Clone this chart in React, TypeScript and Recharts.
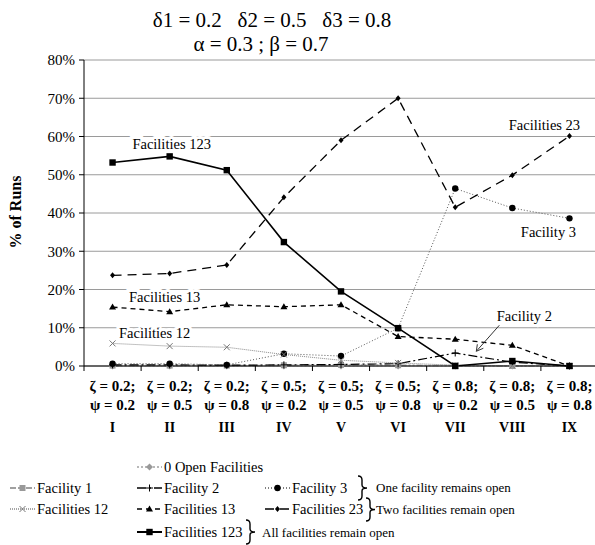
import { LineChart, Line, XAxis, YAxis, CartesianGrid, ReferenceDot } from 'recharts';

const CATEGORIES = ['I', 'II', 'III', 'IV', 'V', 'VI', 'VII', 'VIII', 'IX'];
const ZETA = ['0.2', '0.2', '0.2', '0.5', '0.5', '0.5', '0.8', '0.8', '0.8'];
const PSI = ['0.2', '0.5', '0.8', '0.2', '0.5', '0.8', '0.2', '0.5', '0.8'];
const Y_TICKS = [0, 10, 20, 30, 40, 50, 60, 70, 80];

// % of runs per scenario
const OPEN_0 = [0, 0, 0, 0, 0, 0, 0, 0, 0];
const FACILITY_1 = [0.1, 0.1, 0.1, 0.2, 0.3, 0.2, 0.1, 0, 0];
const FACILITY_2 = [0.3, 0.3, 0.2, 0.3, 0.4, 0.6, 3.4, 1.0, 0];
const FACILITY_3 = [0.6, 0.6, 0.3, 3.2, 2.6, 9.9, 46.4, 41.3, 38.6];
const FACILITIES_12 = [5.9, 5.2, 4.9, 3.0, 1.5, 0.8, 0.2, 0.1, 0];
const FACILITIES_13 = [15.4, 14.2, 16.0, 15.5, 16.0, 7.7, 7.0, 5.4, 0];
const FACILITIES_23 = [23.7, 24.2, 26.4, 44.1, 59.0, 70.0, 41.5, 49.9, 60.1];
const FACILITIES_123 = [53.2, 54.8, 51.2, 32.4, 19.5, 9.9, 0, 1.3, 0];

const SERIES = [
  { key: 'open0', name: '0 Open Facilities', values: OPEN_0, stroke: '#b8b8b8', dash: '2 2', width: 1.5, shape: 'greyDiamond' },
  { key: 'f1', name: 'Facility 1', values: FACILITY_1, stroke: '#a0a0a0', dash: '6 2 2 2 2 2', width: 1.5, shape: 'greySquare' },
  { key: 'f2', name: 'Facility 2', values: FACILITY_2, stroke: '#000', dash: '9 3 2 3', width: 1.2, shape: 'plus' },
  { key: 'f3', name: 'Facility 3', values: FACILITY_3, stroke: '#555', dash: '1 2', width: 1, shape: 'circle' },
  { key: 'f12', name: 'Facilities 12', values: FACILITIES_12, stroke: '#888', dash: '1 1', width: 1, shape: 'cross' },
  { key: 'f13', name: 'Facilities 13', values: FACILITIES_13, stroke: '#000', dash: '5 4', width: 1.3, shape: 'triangle' },
  { key: 'f23', name: 'Facilities 23', values: FACILITIES_23, stroke: '#000', dash: '9 6', width: 1.3, shape: 'diamond' },
  { key: 'f123', name: 'Facilities 123', values: FACILITIES_123, stroke: '#000', dash: undefined, width: 1.6, shape: 'square' },
];

const data = CATEGORIES.map((cat, i) => {
  const row: Record<string, number | string> = { cat, zeta: ZETA[i], psi: PSI[i] };
  SERIES.forEach((s) => {
    row[s.key] = s.values[i];
  });
  return row;
});

// chart annotations, anchored on category / value
const ANNOTATIONS = [
  { text: 'Facilities 123', x: 'II', y: 58, dx: 2 },
  { text: 'Facilities 23', x: 'IX', y: 63, dx: -25 },
  { text: 'Facility 3', x: 'IX', y: 35, dx: -21 },
  { text: 'Facilities 13', x: 'II', y: 18, dx: -5 },
  { text: 'Facilities 12', x: 'II', y: 8.6, dx: -15 },
  { text: 'Facility 2', x: 'VIII', y: 13, dx: 12, arrow: true },
];

const SERIF = "'Liberation Serif'";
const BAND = 57.1;

const Marker = ({ cx, cy, shape }: { cx: number; cy: number; shape: string }) => {
  if (cx == null || cy == null) return null;
  switch (shape) {
    case 'square':
      return <rect x={cx - 3.2} y={cy - 3.2} width={6.4} height={6.4} fill="#000" />;
    case 'greySquare':
      return <rect x={cx - 3} y={cy - 3} width={6} height={6} fill="#999" />;
    case 'diamond':
      return <polygon points={`${cx},${cy - 3} ${cx + 2.5},${cy} ${cx},${cy + 3} ${cx - 2.5},${cy}`} fill="#000" />;
    case 'greyDiamond':
      return <polygon points={`${cx},${cy - 3.5} ${cx + 3.5},${cy} ${cx},${cy + 3.5} ${cx - 3.5},${cy}`} fill="#999" />;
    case 'circle':
      return <circle cx={cx} cy={cy} r={3.2} fill="#000" />;
    case 'triangle':
      return <polygon points={`${cx},${cy - 3.5} ${cx + 3.5},${cy + 2.5} ${cx - 3.5},${cy + 2.5}`} fill="#000" />;
    case 'cross':
      return (
        <g stroke="#777" strokeWidth={1}>
          <line x1={cx - 3} y1={cy - 3} x2={cx + 3} y2={cy + 3} />
          <line x1={cx - 3} y1={cy + 3} x2={cx + 3} y2={cy - 3} />
        </g>
      );
    case 'plus':
      return (
        <g stroke="#000" strokeWidth={1}>
          <line x1={cx - 3.5} y1={cy} x2={cx + 3.5} y2={cy} />
          <line x1={cx} y1={cy - 3.5} x2={cx} y2={cy + 3.5} />
        </g>
      );
    default:
      return null;
  }
};

const CategoryTick = (props: any) => {
  const { x, y, payload, index } = props;
  const row = data[index] ?? data.find((d) => d.cat === payload.value);
  return (
    <g>
      <line x1={x - BAND / 2} y1={y} x2={x - BAND / 2} y2={y + 5} stroke="#000" />
      {index === CATEGORIES.length - 1 && <line x1={x + BAND / 2} y1={y} x2={x + BAND / 2} y2={y + 5} stroke="#000" />}
      <g fontWeight="bold" fill="#000" textAnchor="middle">
        <text x={x} y={y + 25} fontSize={15} style={{ fontFamily: SERIF }}>{`ζ = ${row?.zeta};`}</text>
        <text x={x} y={y + 44} fontSize={15} style={{ fontFamily: SERIF }}>{`ψ = ${row?.psi}`}</text>
        <text x={x} y={y + 66} fontSize={14} style={{ fontFamily: SERIF }}>{payload.value}</text>
      </g>
    </g>
  );
};

const AnnoLabel = ({ viewBox, text, dx, arrow }: any) => {
  const cx = (viewBox?.x ?? 0) + dx;
  const cy = viewBox?.y ?? 0;
  return (
    <g>
      <text
        x={cx}
        y={cy + 5}
        textAnchor="middle"
        style={{ fontFamily: SERIF }}
        fontSize={14.5}
        fill="#000"
        stroke="#fff"
        strokeWidth={6}
        paintOrder="stroke"
      >
        {text}
      </text>
      {arrow && (
        <g stroke="#333" strokeWidth={1} fill="none">
          <line x1={cx - 25} y1={cy + 9} x2={cx - 48} y2={cy + 35} />
          <polyline points={`${cx - 47},${cy + 28} ${cx - 48},${cy + 35} ${cx - 41},${cy + 32}`} />
        </g>
      )}
    </g>
  );
};

const Brace = ({ x, y0, y1 }: { x: number; y0: number; y1: number }) => {
  const m = (y0 + y1) / 2;
  return (
    <path
      d={`M${x} ${y0} Q${x + 4} ${y0} ${x + 4} ${y0 + 4} L${x + 4} ${m - 3} Q${x + 4} ${m} ${x + 9} ${m} Q${x + 4} ${m} ${x + 4} ${m + 3} L${x + 4} ${y1 - 4} Q${x + 4} ${y1} ${x} ${y1}`}
      stroke="#000"
      strokeWidth={1.4}
      fill="none"
    />
  );
};

const LEGEND_POS: Record<string, { x: number; y: number }> = {
  open0: { x: 137, y: 467 },
  f1: { x: 10, y: 488 },
  f2: { x: 137, y: 488 },
  f3: { x: 265, y: 488 },
  f12: { x: 10, y: 509 },
  f13: { x: 137, y: 509 },
  f23: { x: 265, y: 509 },
  f123: { x: 137, y: 532 },
};

const Overlay = () => (
  <svg width={595} height={545} style={{ position: 'absolute', left: 0, top: 0, pointerEvents: 'none' }}>
    <g fill="#000" textAnchor="middle" fontSize={21}>
      <text x={272} y={27} style={{ whiteSpace: 'pre', fontFamily: SERIF }}>
        {'δ1 = 0.2\u00a0\u00a0\u00a0δ2 = 0.5\u00a0\u00a0\u00a0δ3 = 0.8'}
      </text>
      <text x={261} y={51} style={{ fontFamily: SERIF }}>{'α = 0.3 ; β = 0.7'}</text>
    </g>
    <text
      x={0}
      y={0}
      transform="translate(21 212) rotate(-90)"
      textAnchor="middle"
      fontWeight="bold"
      fontSize={16}
      fill="#000"
      style={{ fontFamily: SERIF }}
    >
      % of Runs
    </text>
    <g fontSize={14.5} fill="#000">
      {SERIES.map((s) => {
        const p = LEGEND_POS[s.key];
        return (
          <g key={s.key}>
            <line x1={p.x} y1={p.y} x2={p.x + 25} y2={p.y} stroke={s.stroke} strokeWidth={s.width + 0.4} strokeDasharray={s.dash} />
            <Marker cx={p.x + 12.5} cy={p.y} shape={s.shape} />
            <text x={p.x + 27} y={p.y + 5} style={{ fontFamily: SERIF }}>{s.name}</text>
          </g>
        );
      })}
    </g>
    <Brace x={358} y0={476} y1={500} />
    <Brace x={366} y0={498} y1={521} />
    <Brace x={246} y0={520} y1={544} />
    <g fontSize={13} fill="#000">
      <text x={376} y={492} style={{ fontFamily: SERIF }}>One facility remains open</text>
      <text x={376} y={514} style={{ fontFamily: SERIF }}>Two facilities remain open</text>
      <text x={262} y={537} style={{ fontFamily: SERIF }}>All facilities remain open</text>
    </g>
  </svg>
);

export default function App() {
  return (
    <div style={{ position: 'absolute', left: 0, top: 0, width: 595, height: 545, overflow: 'hidden', background: '#fff' }}>
      <LineChart width={600} height={545} data={data} margin={{ top: 60, right: 2, bottom: 0, left: 0 }}>
        <CartesianGrid vertical={false} stroke="#9a9a9a" strokeWidth={1} />
        <XAxis
          dataKey="cat"
          height={179}
          tickSize={0}
          tickMargin={0}
          tickLine={false}
          interval={0}
          padding={{ left: BAND / 2, right: BAND / 2 }}
          axisLine={{ stroke: '#000', strokeWidth: 1 }}
          tick={<CategoryTick />}
        />
        <YAxis
          width={84}
          domain={[0, 80]}
          ticks={Y_TICKS}
          interval={0}
          tickFormatter={(v: number) => `${v}%`}
          tickSize={5}
          tickMargin={4}
          tickLine={{ stroke: '#000' }}
          axisLine={{ stroke: '#000', strokeWidth: 1 }}
          tick={{ fontSize: 15, fill: '#000', fontFamily: 'Liberation Serif' }}
        />
        {SERIES.map((s) => (
          <Line
            key={s.key}
            type="linear"
            dataKey={s.key}
            name={s.name}
            stroke={s.stroke}
            strokeWidth={s.width}
            strokeDasharray={s.dash}
            dot={(p: any) => <Marker key={`${s.key}-${p.index}`} cx={p.cx} cy={p.cy} shape={s.shape} />}
            activeDot={false}
            isAnimationActive={false}
          />
        ))}
        {ANNOTATIONS.map((a) => (
          <ReferenceDot
            key={a.text}
            x={a.x}
            y={a.y}
            r={0}
            fill="none"
            stroke="none"
            ifOverflow="visible"
            label={(p: any) => <AnnoLabel {...p} text={a.text} dx={a.dx} arrow={a.arrow} />}
          />
        ))}
      </LineChart>
      <Overlay />
    </div>
  );
}
